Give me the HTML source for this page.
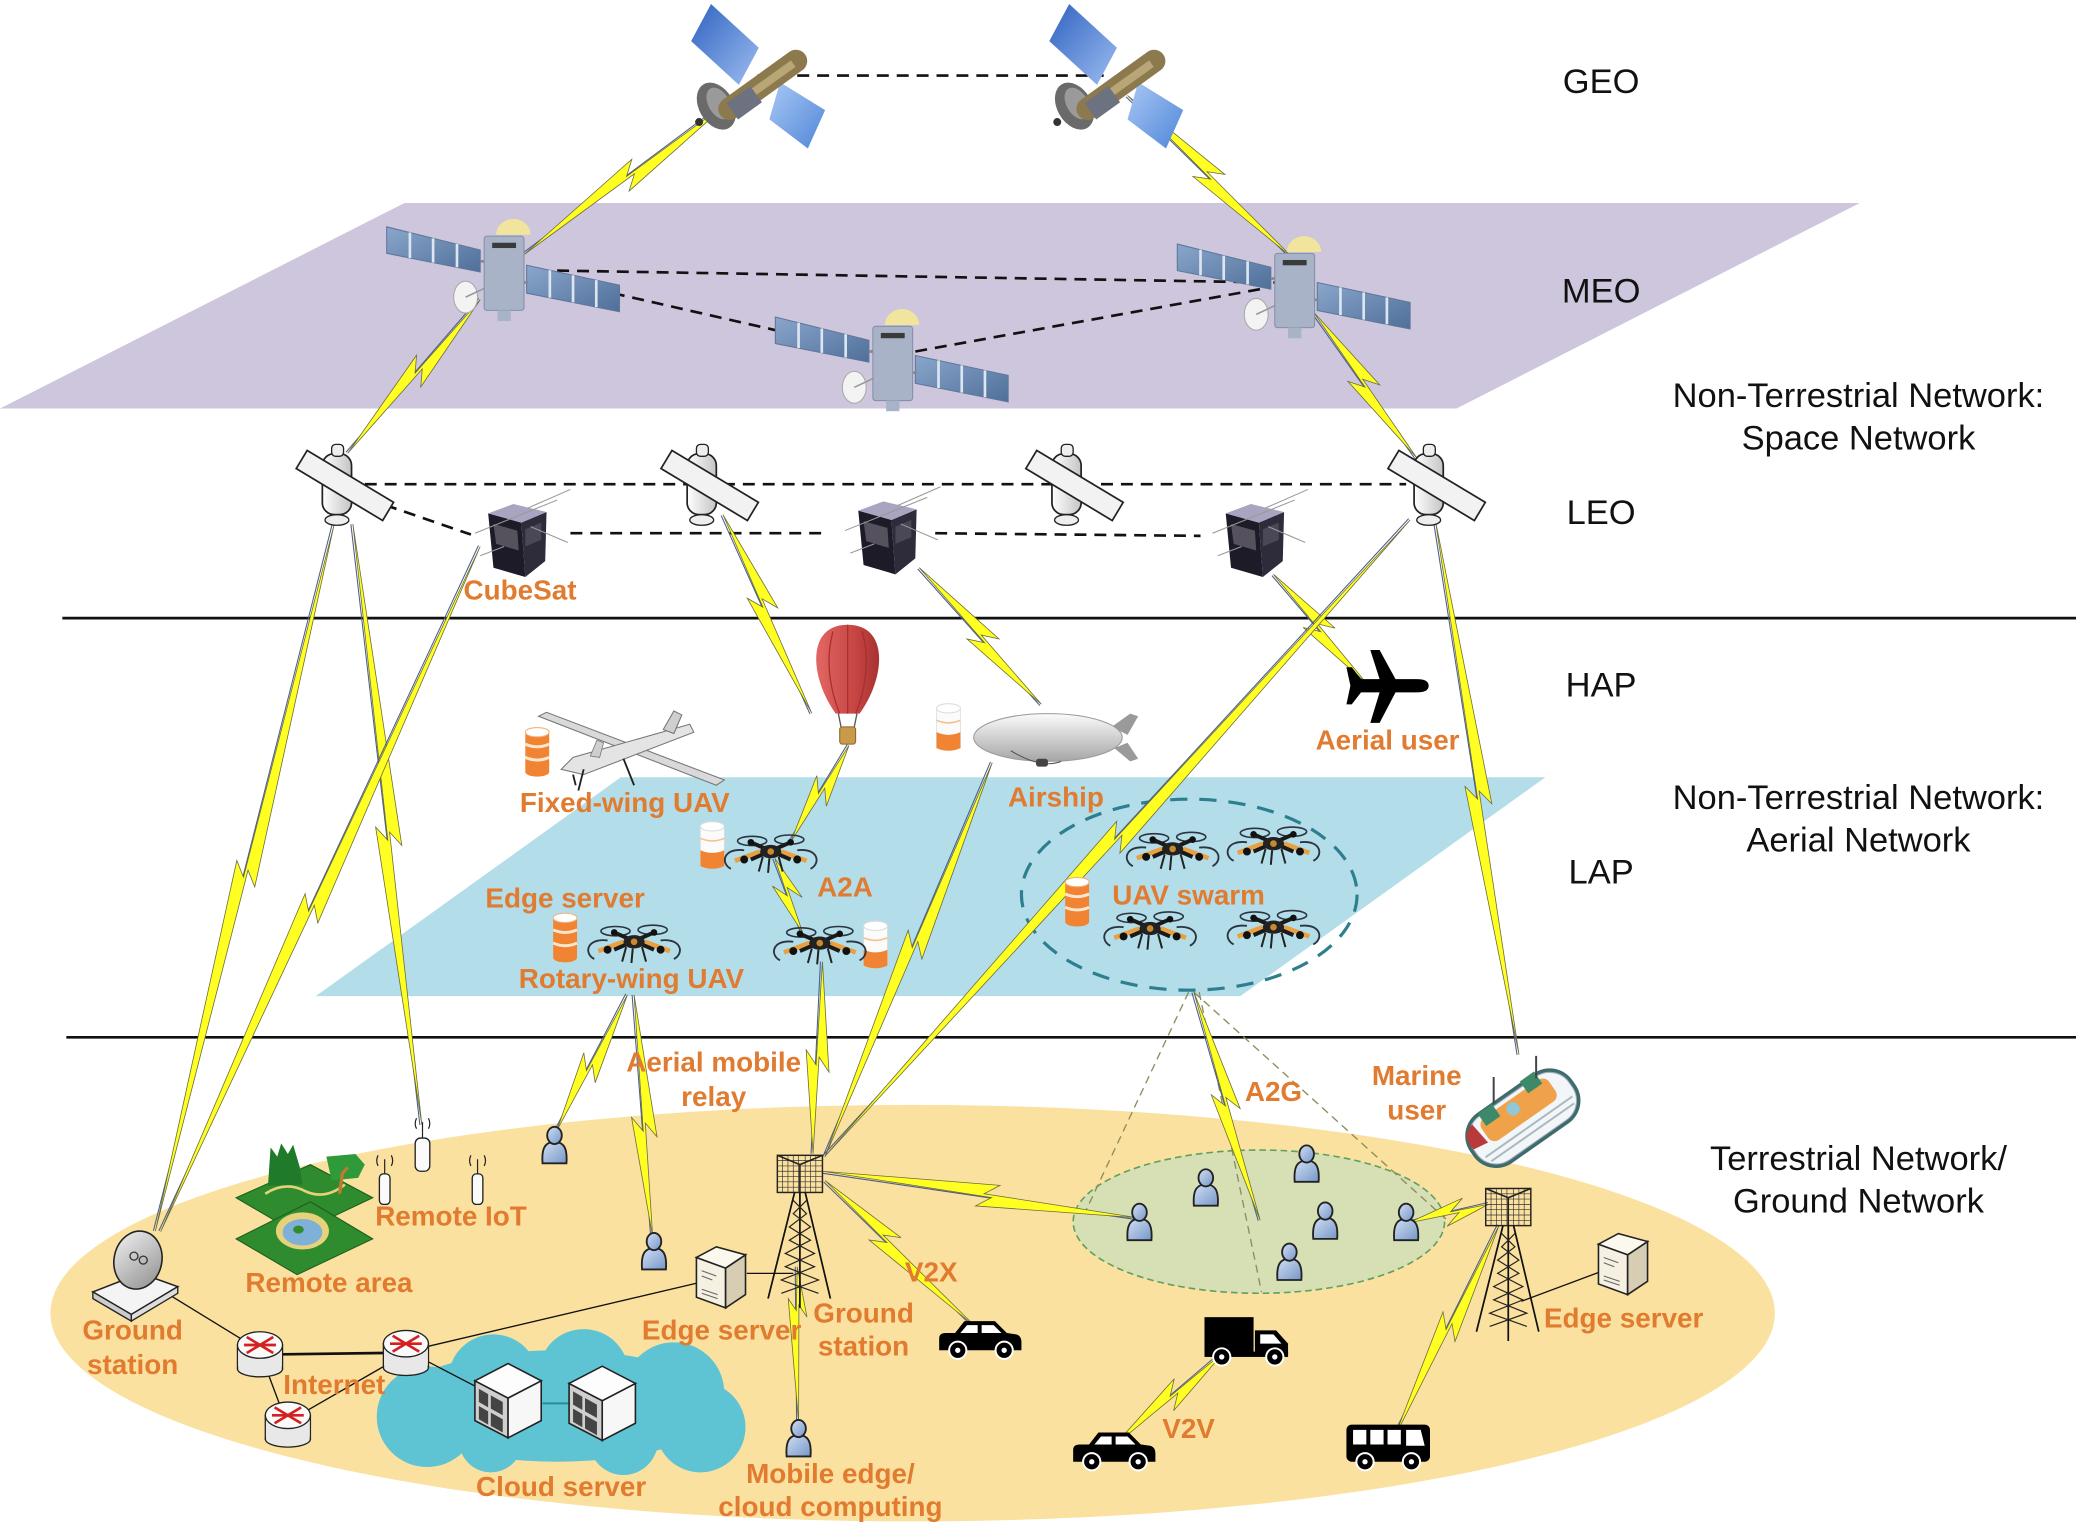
<!DOCTYPE html>
<html><head><meta charset="utf-8"><style>
html,body{margin:0;padding:0;background:#fff;}
svg{display:block;}
.b{fill:#ffff22;stroke:#6b6b40;stroke-width:0.6;}
.t{stroke:#4b5f86;stroke-width:0.8;fill:none;}
.bk{font-family:"Liberation Sans",Arial,sans-serif;font-size:26px;fill:#111;text-anchor:middle;}
.or{font-family:"Liberation Sans",Arial,sans-serif;font-size:21px;font-weight:bold;fill:#e07b30;text-anchor:middle;}
</style></head><body>
<svg xmlns="http://www.w3.org/2000/svg" xmlns:xlink="http://www.w3.org/1999/xlink" width="2080" height="1536" viewBox="0 0 1568 1158" preserveAspectRatio="none">
<defs>
<linearGradient id="gb" x1="0" y1="0" x2="1" y2="1"><stop offset="0" stop-color="#2f62c0"/><stop offset="1" stop-color="#9dbdf0"/></linearGradient>
<linearGradient id="gb2" x1="0" y1="0" x2="1" y2="1"><stop offset="0" stop-color="#a9c8f4"/><stop offset="1" stop-color="#4f86d8"/></linearGradient>
<linearGradient id="gw" x1="0" y1="0" x2="1" y2="0"><stop offset="0" stop-color="#ffffff"/><stop offset="1" stop-color="#c4c4c4"/></linearGradient>
<linearGradient id="gu" x1="0" y1="0" x2="1" y2="1"><stop offset="0" stop-color="#d2e0f3"/><stop offset="1" stop-color="#7696c8"/></linearGradient>
<linearGradient id="gr" x1="0" y1="0" x2="1" y2="0"><stop offset="0" stop-color="#e26763"/><stop offset="0.6" stop-color="#c74644"/><stop offset="1" stop-color="#a83232"/></linearGradient>
<linearGradient id="ga" x1="0" y1="0" x2="0" y2="1"><stop offset="0" stop-color="#fbfbfb"/><stop offset="1" stop-color="#a6a6a6"/></linearGradient>
<linearGradient id="gd" x1="0" y1="0" x2="1" y2="1"><stop offset="0" stop-color="#f2f2f2"/><stop offset="1" stop-color="#8e8e8e"/></linearGradient>
<linearGradient id="gm" x1="0" y1="0" x2="1" y2="1"><stop offset="0" stop-color="#8aa6cc"/><stop offset="1" stop-color="#4f6f99"/></linearGradient>

<g id="drone">
 <ellipse cx="-14" cy="-9" rx="11" ry="3.5" fill="none" stroke="#2b3440" stroke-width="1.2"/>
 <ellipse cx="14" cy="-10" rx="11" ry="3.5" fill="none" stroke="#2b3440" stroke-width="1.2"/>
 <path d="M-20,-2 C-36,-4 -38,8 -30,12 M20,-2 C36,-4 38,8 30,12" fill="none" stroke="#2b3440" stroke-width="1.4"/>
 <path d="M-27,6 L-8,-1 M8,-1 L27,6" stroke="#e9a040" stroke-width="3.5"/>
 <path d="M-15,-8 L15,5 M15,-8 L-15,5" stroke="#1a1a1a" stroke-width="3"/>
 <circle cx="-15" cy="-8" r="2.5" fill="#111"/><circle cx="15" cy="-8" r="2.5" fill="#111"/>
 <circle cx="-20" cy="5" r="3" fill="#111"/><circle cx="20" cy="5" r="3" fill="#111"/>
 <ellipse cx="0" cy="-1" rx="8" ry="5" fill="#222"/><circle cx="0" cy="-1" r="2.5" fill="#c88a30"/>
 <path d="M-6,3 L-9,14 M6,3 L9,14 M-1,4 L-2,15" stroke="#222" stroke-width="1.5"/>
</g>
<g id="db">
 <rect x="-9" y="-14" width="18" height="30" fill="#f08432"/>
 <ellipse cx="0" cy="16" rx="9" ry="3.5" fill="#f08432"/>
 <path d="M-9,-5 Q0,-1 9,-5 M-9,5 Q0,9 9,5" stroke="#fde6d0" stroke-width="2.2" fill="none"/>
 <ellipse cx="0" cy="-14" rx="9" ry="3.5" fill="#fff" stroke="#f3b27a" stroke-width="0.8"/>
</g>
<g id="dbw">
 <rect x="-9" y="-14" width="18" height="30" fill="#fbfbfb" stroke="#ddd" stroke-width="0.6"/>
 <path d="M-9,4 Q0,8 9,4 L9,16 Q0,20 -9,16 Z" fill="#f08432"/>
 <path d="M-9,-5 Q0,-1 9,-5" stroke="#f5c090" stroke-width="1.2" fill="none"/>
 <ellipse cx="0" cy="-14" rx="9" ry="3.5" fill="#fff" stroke="#ddd" stroke-width="0.8"/>
</g>
<g id="usr">
 <path d="M-9,13 C-10,0 -6,-3 0,-3 C6,-3 10,0 9,13 Z" fill="url(#gu)" stroke="#222" stroke-width="1.4"/>
 <ellipse cx="0" cy="-8" rx="5.5" ry="6.5" fill="url(#gu)" stroke="#222" stroke-width="1.4"/>
</g>
<g id="car">
 <path d="M1,24 L1,15 Q1,11 6,11 L13,11 L20,2 L43,2 L52,11 L59,12 Q63,13 63,18 L63,24 Z" fill="#000"/>
 <path d="M22,5 L30,5 L30,11 L17,11 Z M33,5 L42,5 L48,11 L33,11 Z" fill="#fff"/>
 <circle cx="15" cy="24" r="6.5" fill="#000" stroke="#fff" stroke-width="1.5"/><circle cx="15" cy="24" r="2" fill="#fff"/>
 <circle cx="50" cy="24" r="6.5" fill="#000" stroke="#fff" stroke-width="1.5"/><circle cx="50" cy="24" r="2" fill="#fff"/>
</g>
<g id="tw">
 <rect x="0" y="0" width="34" height="28" fill="none" stroke="#222" stroke-width="1.1"/>
 <path d="M4,0V28M8,0V28M12,0V28M16,0V28M21,0V28M25,0V28M29,0V28M0,4H34M0,8H34M0,12H34M0,16H34M0,20H34M0,24H34" stroke="#333" stroke-width="0.5"/>
 <path d="M0,0 L17,7 L34,0 M17,7 L17,28" stroke="#222" stroke-width="1.2" fill="none"/>
 <path d="M13,28 L-7,108 M21,28 L40,108 M17,28 L17,115" stroke="#111" stroke-width="1.3" fill="none"/>
 <path d="M12,34 L22,44 L9,54 L25,64 L6,74 L28,84 L3,94 L31,104 M22,34 L12,44 L25,54 L9,64 L28,74 L6,84 L31,94 L3,104" stroke="#222" stroke-width="0.9" fill="none"/>
</g>
<g id="srv">
 <path d="M0,8 L22,16 L22,46 L0,38 Z" fill="#f5f0e2" stroke="#222" stroke-width="1.2"/>
 <path d="M22,16 L37,6 L37,36 L22,46 Z" fill="#d6cdb2" stroke="#222" stroke-width="1.2"/>
 <path d="M0,8 L15,0 L37,6 L22,16 Z" fill="#fbf8ee" stroke="#222" stroke-width="1.2"/>
 <path d="M4,18 L15,22 M4,22 L12,25 M4,32 L16,36 M4,35 L16,39" stroke="#666" stroke-width="0.8"/>
</g>
<g id="csrv">
 <path d="M0,13 L25,26 L25,56 L0,43 Z" fill="#cfcfcf" stroke="#222" stroke-width="1.2"/>
 <path d="M25,26 L50,13 L50,43 L25,56 Z" fill="#f7f7f7" stroke="#222" stroke-width="1.2"/>
 <path d="M0,13 L25,0 L50,13 L25,26 Z" fill="#fdfdfd" stroke="#222" stroke-width="1.2"/>
 <path d="M3,19 L10,23 L10,33 L3,29 Z M12,24 L21,29 L21,39 L12,34 Z M3,32 L10,36 L10,46 L3,42 Z M12,37 L21,42 L21,52 L12,47 Z" fill="#444"/>
</g>
<g id="rt">
 <rect x="-17" y="-6" width="34" height="18" fill="#e8e8e8" stroke="#222" stroke-width="1"/>
 <ellipse cx="0" cy="12" rx="17" ry="6" fill="#e8e8e8" stroke="#222" stroke-width="1"/>
 <rect x="-16.5" y="-6" width="33" height="17" fill="#e8e8e8"/>
 <ellipse cx="0" cy="-6" rx="17" ry="10" fill="#fafafa" stroke="#222" stroke-width="1"/>
 <path d="M-10,-12 L10,0 M10,-12 L-10,0 M-12,-6 H12" stroke="#d42020" stroke-width="2"/>
</g>
<g id="leo">
 <rect x="-11" y="-24" width="22" height="46" rx="9" fill="url(#gw)" stroke="#222" stroke-width="1.3"/>
 <g transform="translate(6,0) rotate(31)"><rect x="-38" y="-8" width="76" height="16" fill="#f2f2f2" stroke="#222" stroke-width="1.3"/></g>
 <rect x="-4" y="-31" width="9" height="9" rx="3" fill="#eee" stroke="#222" stroke-width="1"/>
 <ellipse cx="0" cy="26" rx="9" ry="4" fill="#eee" stroke="#222" stroke-width="1"/>
</g>
<g id="cube">
 <path d="M-22,-20 L3,-13 L6,28 L-18,21 Z" fill="#1d1b28"/>
 <path d="M3,-13 L22,-21 L21,16 L6,28 Z" fill="#2e2b3a"/>
 <path d="M-22,-20 L-3,-27 L22,-21 L3,-13 Z" fill="#a9a4c0"/>
 <path d="M-18,-12 L0,-7 L1,8 L-16,3 Z" fill="#55525e"/>
 <path d="M6,-8 L18,-13 L18,0 L6,5 Z" fill="#4a4756"/>
 <path d="M-32,-5 L30,-30 M-28,12 L-10,5 M8,-24 L40,-38 M10,-10 L38,2" stroke="#999" stroke-width="0.8"/>
</g>
<g id="meo">
 <path d="M-88.5,-34 L-18,-16.5 L-18,0 L-88.5,-14 Z" fill="url(#gm)" stroke="#5f7799" stroke-width="0.8"/>
 <path d="M-71,-29.7 L-71,-10.5 M-53.5,-25.3 L-53.5,-7 M-35.5,-21 L-35.5,-3.5" stroke="#dde5f0" stroke-width="2"/>
 <path d="M17,-5 L87,10 L87,30 L17,16 Z" fill="url(#gm)" stroke="#5f7799" stroke-width="0.8"/>
 <path d="M34.5,-1.3 L34.5,19.5 M52,2.5 L52,23 M69.5,6.2 L69.5,26.5" stroke="#dde5f0" stroke-width="2"/>
 <path d="M-18,-8 L-14,-8 M15,8 L18,8" stroke="#888" stroke-width="2"/>
 <ellipse cx="-29" cy="19" rx="9" ry="12" fill="#f3f3f3" stroke="#aaa" stroke-width="0.8"/>
 <path d="M-29,19 L-14,12" stroke="#999" stroke-width="1.2"/>
 <rect x="-15" y="-27" width="30" height="56" rx="2" fill="#a8b3c8" stroke="#8390a8" stroke-width="0.8"/>
 <rect x="-9" y="-22" width="18" height="4" fill="#3a3a3a"/>
 <path d="M-6,-28 A13,12 0 0 1 20,-28 Z" fill="#f1e49c"/>
 <rect x="-5" y="29" width="10" height="8" fill="#a8b3c8"/>
</g>
<g id="geo">
 <path d="M536,3 L572,36 L557,64 L521,31 Z" fill="url(#gb)"/>
 <path d="M588,62 L622,83 L609,112 L580,90 Z" fill="url(#gb2)"/>
 <ellipse cx="540" cy="80" rx="13" ry="19" transform="rotate(-30 540 80)" fill="#6a6a6a"/>
 <ellipse cx="542" cy="78" rx="8" ry="13" transform="rotate(-30 542 78)" fill="#9a9a9a"/>
 <path d="M550,82 L600,46" stroke="#8c7a4e" stroke-width="17" stroke-linecap="round"/>
 <path d="M556,78 L598,48" stroke="#b9a676" stroke-width="6"/>
 <path d="M552,84 L570,71" stroke="#6d7280" stroke-width="15"/>
 <circle cx="527" cy="92" r="3" fill="#333"/>
</g>
</defs>

<!-- planes -->
<polygon points="305,153 1402,153 1098,308 0,308" fill="#cdc6dc"/>
<polygon points="468,586 1165,586 935,751 238,751" fill="#b3dde9"/>
<line x1="47" y1="466" x2="1565" y2="466" stroke="#111" stroke-width="2"/>
<line x1="50" y1="782" x2="1565" y2="782" stroke="#111" stroke-width="2"/>
<ellipse cx="688" cy="990" rx="650" ry="157" fill="#fbe19f"/>
<ellipse cx="949" cy="921" rx="140" ry="54" fill="#d6e0b4" stroke="#5f9f5f" stroke-width="1.2" stroke-dasharray="5 3"/>
<ellipse cx="896.5" cy="674.5" rx="126.5" ry="72" fill="none" stroke="#2d7f8f" stroke-width="2.4" stroke-dasharray="13 9"/>
<!-- cloud -->
<g fill="#5ec3d3">
<ellipse cx="420" cy="1060" rx="125" ry="42"/>
<circle cx="322" cy="1068" r="38"/><circle cx="372" cy="1040" r="34"/><circle cx="440" cy="1036" r="34"/>
<circle cx="508" cy="1050" r="38"/><circle cx="528" cy="1076" r="34"/><circle cx="470" cy="1086" r="26"/><circle cx="370" cy="1086" r="24"/>
</g>

<!-- dashed links -->
<g stroke="#111" stroke-width="2" stroke-dasharray="9 6" fill="none">
<line x1="571" y1="57" x2="832" y2="57"/>
<line x1="420" y1="204" x2="962" y2="213"/>
<line x1="462" y1="221" x2="585" y2="249"/>
<line x1="690" y1="265" x2="950" y2="218"/>
<line x1="275" y1="365" x2="1060" y2="365"/>
<line x1="430" y1="402" x2="622" y2="402"/>
<line x1="705" y1="402" x2="905" y2="404"/>
<line x1="262" y1="371" x2="355" y2="403"/>
</g>
<g stroke="#8c8c5a" stroke-width="1" stroke-dasharray="6 4" fill="none">
<line x1="896" y1="748" x2="818" y2="914"/>
<line x1="904" y1="748" x2="951" y2="974"/>
<line x1="900" y1="748" x2="1090" y2="919"/>
</g>

<!-- black ground links -->
<g stroke="#111" fill="none">
<line x1="129" y1="977" x2="186" y2="1012" stroke-width="1"/>
<line x1="213" y1="1021" x2="290" y2="1020" stroke-width="2"/>
<line x1="197" y1="1022" x2="215" y2="1070" stroke-width="1"/>
<line x1="220" y1="1070" x2="300" y2="1024" stroke-width="1"/>
<line x1="310" y1="1018" x2="527" y2="967" stroke-width="1"/>
<line x1="310" y1="1020" x2="360" y2="1046" stroke-width="1"/>
<line x1="563" y1="960" x2="598" y2="960" stroke-width="1"/>
<line x1="1206" y1="959" x2="1147" y2="981" stroke-width="1"/>
</g>
<line x1="409" y1="1058" x2="429" y2="1058" stroke="#2a8a9a" stroke-width="1.5"/>

<!-- lightning links -->
<g>
<g transform="translate(553,74) rotate(143.25)"><line class="t" x1="0" y1="1.5" x2="197" y2="1.5"/><polygon class="b" points="0,0 105,-9 94,-1 197,0 89,9 100,1"/></g>
<g transform="translate(850,72) rotate(44.5)"><line class="t" x1="0" y1="1.5" x2="175" y2="1.5"/><polygon class="b" points="0,0 94,-9 83,-1 175,0 78,9 89,1"/></g>
<g transform="translate(362,226) rotate(130.8)"><line class="t" x1="0" y1="1.5" x2="153" y2="1.5"/><polygon class="b" points="0,0 79,-9 68,-1 153,0 63,9 74,1"/></g>
<g transform="translate(990,235) rotate(54.7)"><line class="t" x1="0" y1="1.5" x2="135" y2="1.5"/><polygon class="b" points="0,0 74,-9 63,-1 135,0 58,9 69,1"/></g>
<g transform="translate(545,388) rotate(65.9)"><line class="t" x1="0" y1="1.5" x2="164" y2="1.5"/><polygon class="b" points="0,0 81,-9 70,-1 164,0 65,9 76,1"/></g>
<g transform="translate(693,428) rotate(48.2)"><line class="t" x1="0" y1="1.5" x2="138" y2="1.5"/><polygon class="b" points="0,0 80,-9 69,-1 138,0 64,9 75,1"/></g>
<g transform="translate(960,433) rotate(49.5)"><line class="t" x1="0" y1="1.5" x2="108" y2="1.5"/><polygon class="b" points="0,0 61,-9 50,-1 108,0 45,9 56,1"/></g>
<g transform="translate(1082,392) rotate(81.1)"><line class="t" x1="0" y1="1.5" x2="408" y2="1.5"/><polygon class="b" points="0,0 218,-9 207,-1 408,0 202,9 213,1"/></g>
<g transform="translate(252,395) rotate(104.2)"><line class="t" x1="0" y1="1.5" x2="550" y2="1.5"/><polygon class="b" points="0,0 280,-9 269,-1 550,0 264,9 275,1"/></g>
<g transform="translate(266,395) rotate(83.45)"><line class="t" x1="0" y1="1.5" x2="456" y2="1.5"/><polygon class="b" points="0,0 245,-9 234,-1 456,0 229,9 240,1"/></g>
<g transform="translate(362,412) rotate(115)"><line class="t" x1="0" y1="1.5" x2="570" y2="1.5"/><polygon class="b" points="0,0 309,-9 298,-1 570,0 293,9 304,1"/></g>
<g transform="translate(640,562) rotate(121.1)"><line class="t" x1="0" y1="1.5" x2="85" y2="1.5"/><polygon class="b" points="0,0 48,-9 37,-1 85,0 32,9 43,1"/></g>
<g transform="translate(584,647) rotate(69.4)"><line class="t" x1="0" y1="1.5" x2="60" y2="1.5"/><polygon class="b" points="0,0 35,-9 24,-1 60,0 19,9 30,1"/></g>
<g transform="translate(620,725) rotate(92.8)"><line class="t" x1="0" y1="1.5" x2="145" y2="1.5"/><polygon class="b" points="0,0 83,-9 72,-1 145,0 67,9 78,1"/></g>
<g transform="translate(748,575) rotate(113)"><line class="t" x1="0" y1="1.5" x2="323" y2="1.5"/><polygon class="b" points="0,0 157,-9 146,-1 323,0 141,9 152,1"/></g>
<g transform="translate(1063,392) rotate(132.6)"><line class="t" x1="0" y1="1.5" x2="652" y2="1.5"/><polygon class="b" points="0,0 333,-9 322,-1 652,0 317,9 328,1"/></g>
<g transform="translate(473,750) rotate(117.5)"><line class="t" x1="0" y1="1.5" x2="115" y2="1.5"/><polygon class="b" points="0,0 70,-9 59,-1 115,0 54,9 65,1"/></g>
<g transform="translate(478,750) rotate(85.6)"><line class="t" x1="0" y1="1.5" x2="183" y2="1.5"/><polygon class="b" points="0,0 108,-9 97,-1 183,0 92,9 103,1"/></g>
<g transform="translate(620,883) rotate(8.4)"><line class="t" x1="0" y1="1.5" x2="240" y2="1.5"/><polygon class="b" points="0,0 134,-9 123,-1 240,0 118,9 129,1"/></g>
<g transform="translate(622,890) rotate(44.2)"><line class="t" x1="0" y1="1.5" x2="158" y2="1.5"/><polygon class="b" points="0,0 71,-9 60,-1 158,0 55,9 66,1"/></g>
<g transform="translate(900,748) rotate(73.8)"><line class="t" x1="0" y1="1.5" x2="179" y2="1.5"/><polygon class="b" points="0,0 94,-9 83,-1 179,0 78,9 89,1"/></g>
<g transform="translate(1122,908) rotate(166.9)"><line class="t" x1="0" y1="1.5" x2="62" y2="1.5"/><polygon class="b" points="0,0 34,-9 23,-1 62,0 18,9 29,1"/></g>
<g transform="translate(1130,924) rotate(116.3)"><line class="t" x1="0" y1="1.5" x2="178" y2="1.5"/><polygon class="b" points="0,0 93,-9 82,-1 178,0 77,9 88,1"/></g>
<g transform="translate(923,1019) rotate(139.5)"><line class="t" x1="0" y1="1.5" x2="109" y2="1.5"/><polygon class="b" points="0,0 58,-9 47,-1 109,0 42,9 53,1"/></g>
<g transform="translate(601,955) rotate(89.5)"><line class="t" x1="0" y1="1.5" x2="117" y2="1.5"/><polygon class="b" points="0,0 38,-7 29,-1 117,0 24,7 33,1"/></g>
</g>

<!-- GEO satellites -->
<use xlink:href="#geo"/>
<use xlink:href="#geo" transform="translate(270,0)"/>

<!-- MEO satellites -->
<use xlink:href="#meo" transform="translate(380,205)"/>
<use xlink:href="#meo" transform="translate(976,218)"/>
<use xlink:href="#meo" transform="translate(673,273)"/>

<!-- LEO satellites -->
<use xlink:href="#leo" transform="translate(254,366)"/>
<use xlink:href="#leo" transform="translate(529,366)"/>
<use xlink:href="#leo" transform="translate(804,366)"/>
<use xlink:href="#leo" transform="translate(1077,366)"/>
<use xlink:href="#cube" transform="translate(390,407)"/>
<use xlink:href="#cube" transform="translate(669,405)"/>
<use xlink:href="#cube" transform="translate(946,407)"/>

<!-- aerial user plane -->
<path d="M1077,517 Q1077,512 1068,512 L1052,512 L1040,490 L1033,490 L1040,512 L1026,512 L1019,503 L1015,503 L1018,517 L1015,531 L1019,531 L1026,522 L1040,522 L1033,545 L1040,545 L1052,522 L1068,522 Q1077,522 1077,517 Z" fill="#000"/>

<!-- balloon -->
<path d="M639,471 C670,471 668,510 648,538 L630,538 C610,510 608,471 639,471 Z" fill="url(#gr)"/>
<path d="M628,476 Q620,505 633,538 M639,471 L639,538 M650,476 Q658,505 645,538" stroke="#a83030" stroke-width="1" fill="none"/>
<path d="M632,538 L634,548 M646,538 L644,548" stroke="#555" stroke-width="1"/>
<rect x="633" y="548" width="12" height="13" rx="2" fill="#c99a4a" stroke="#8a6a2a" stroke-width="0.8"/>

<!-- airship -->
<path d="M838,548 L852,538 L858,540 L850,554 Z M840,564 L852,574 L858,572 L850,560 Z" fill="#9a9a9a"/>
<ellipse cx="790" cy="556" rx="56" ry="18" fill="url(#ga)" stroke="#9a9a9a" stroke-width="0.8"/>
<path d="M762,566 Q785,580 800,574" stroke="#555" stroke-width="0.8" fill="none"/>
<rect x="781" y="572" width="9" height="6" rx="2" fill="#444"/>

<!-- fixed wing UAV -->
<polygon points="406,540 412,537 546,588 540,592" fill="#d9d9d9" stroke="#777" stroke-width="0.8"/>
<polygon points="423,580 432,571 520,546 523,552 440,584" fill="#e4e4e4" stroke="#777" stroke-width="0.8"/>
<polygon points="500,550 508,536 514,539 508,553" fill="#cfcfcf" stroke="#777" stroke-width="0.8"/>
<polygon points="445,570 450,558 455,560 452,571" fill="#cfcfcf" stroke="#777" stroke-width="0.6"/>
<path d="M440,580 L436,596 M470,572 L478,592 M432,584 L434,592" stroke="#222" stroke-width="1.4"/>

<!-- storage cylinders -->
<use xlink:href="#db" transform="translate(405,566)"/>
<use xlink:href="#dbw" transform="translate(715,548)"/>
<use xlink:href="#dbw" transform="translate(537,637)"/>
<use xlink:href="#dbw" transform="translate(660,712)"/>
<use xlink:href="#db" transform="translate(426,706)"/>
<use xlink:href="#db" transform="translate(812,679)"/>

<!-- drones -->
<use xlink:href="#drone" transform="translate(581,643)"/>
<use xlink:href="#drone" transform="translate(618,712)"/>
<use xlink:href="#drone" transform="translate(478,711)"/>
<use xlink:href="#drone" transform="translate(884,641)"/>
<use xlink:href="#drone" transform="translate(960,637)"/>
<use xlink:href="#drone" transform="translate(867,701)"/>
<use xlink:href="#drone" transform="translate(960,700)"/>

<!-- ground: remote area -->
<polygon points="178,903 234,878 281,903 224,930" fill="#2e8b2e" stroke="#1e5e1e" stroke-width="0.8"/>
<polygon points="178,934 234,906 281,934 224,961" fill="#2e8b2e" stroke="#1e5e1e" stroke-width="0.8"/>
<ellipse cx="228" cy="928" rx="20" ry="14" fill="#e6d27a"/>
<ellipse cx="228" cy="929" rx="15" ry="10" fill="#7fb0d8"/>
<ellipse cx="225" cy="927" rx="4" ry="3" fill="#2e8b2e"/>
<path d="M200,900 Q215,890 230,898 Q245,905 260,893" stroke="#e6d27a" stroke-width="2" fill="none"/>
<path d="M202,894 L204,865 L209,872 L212,862 L217,870 L221,863 L226,880 L228,893 Z" fill="#1f7a2a"/>
<path d="M246,872 L268,870 L275,878 L270,888 L250,890 Z" fill="#2e9a3a"/>
<path d="M256,900 L258,885 L262,880" stroke="#c07a30" stroke-width="2.5" fill="none"/>

<!-- IoT antennas -->
<g stroke="#222" stroke-width="1" fill="#fafafa">
<rect x="313" y="858" width="11" height="25" rx="4"/>
<rect x="286" y="885" width="8" height="23" rx="3"/>
<rect x="356" y="885" width="8" height="23" rx="3"/>
</g>
<g stroke="#222" stroke-width="0.9" fill="none">
<path d="M318.5,858 V846 M290,885 V874 M360,885 V874"/>
<path d="M314,843 Q312,847 314,851 M323,843 Q325,847 323,851 M285,871 Q283,875 285,879 M295,871 Q297,875 295,879 M355,871 Q353,875 355,879 M365,871 Q367,875 365,879"/>
</g>

<!-- ground station dish -->
<polygon points="70,974 106,960 134,970 99,991" fill="#f4f4f4" stroke="#222" stroke-width="1.2"/>
<polygon points="70,974 99,991 99,996 70,979" fill="#ccc" stroke="#222" stroke-width="1"/>
<polygon points="99,991 134,970 134,975 99,996" fill="#ddd" stroke="#222" stroke-width="1"/>
<ellipse cx="104" cy="950" rx="18" ry="22" transform="rotate(12 104 950)" fill="url(#gd)" stroke="#222" stroke-width="1.2"/>
<circle cx="101" cy="947" r="3" fill="none" stroke="#333"/><circle cx="108" cy="950" r="3" fill="none" stroke="#333"/>

<!-- routers -->
<use xlink:href="#rt" transform="translate(196,1020)"/>
<use xlink:href="#rt" transform="translate(306,1019)"/>
<use xlink:href="#rt" transform="translate(217,1073)"/>

<!-- cloud servers -->
<use xlink:href="#csrv" transform="translate(358,1028)"/>
<use xlink:href="#csrv" transform="translate(429,1030)"/>

<!-- edge servers -->
<use xlink:href="#srv" transform="translate(525,940)"/>
<use xlink:href="#srv" transform="translate(1205,930)"/>

<!-- towers -->
<use xlink:href="#tw" transform="translate(586,871)"/>
<use xlink:href="#tw" transform="translate(1120,896)"/>

<!-- users -->
<use xlink:href="#usr" transform="translate(418,864)"/>
<use xlink:href="#usr" transform="translate(493,944)"/>
<use xlink:href="#usr" transform="translate(602,1085)"/>
<use xlink:href="#usr" transform="translate(859,922)"/>
<use xlink:href="#usr" transform="translate(909,896)"/>
<use xlink:href="#usr" transform="translate(985,878)"/>
<use xlink:href="#usr" transform="translate(999,921)"/>
<use xlink:href="#usr" transform="translate(1060,922)"/>
<use xlink:href="#usr" transform="translate(972,952)"/>

<!-- vehicles -->
<use xlink:href="#car" transform="translate(707,994)"/>
<use xlink:href="#car" transform="translate(808,1078)"/>
<g>
<rect x="908" y="993" width="37" height="27" fill="#000"/>
<path d="M946,1003 L962,1003 L971,1013 L971,1022 L946,1022 Z" fill="#000"/>
<path d="M950,1006 L960,1006 L966,1013 L950,1013 Z" fill="#fff"/>
<rect x="908" y="1019" width="63" height="4" fill="#000"/>
<circle cx="921" cy="1023" r="6.5" fill="#000" stroke="#fff" stroke-width="1.5"/><circle cx="921" cy="1023" r="2" fill="#fff"/>
<circle cx="961" cy="1023" r="6.5" fill="#000" stroke="#fff" stroke-width="1.5"/><circle cx="961" cy="1023" r="2" fill="#fff"/>
</g>
<g>
<rect x="1015" y="1074" width="63" height="28" rx="4" fill="#000"/>
<rect x="1020" y="1078" width="10" height="11" fill="#fff"/>
<rect x="1033" y="1078" width="10" height="11" fill="#fff"/>
<rect x="1046" y="1078" width="10" height="11" fill="#fff"/>
<path d="M1060,1078 L1071,1078 L1074,1090 L1060,1090 Z" fill="#fff"/>
<circle cx="1029" cy="1102" r="6.5" fill="#000" stroke="#fff" stroke-width="1.5"/><circle cx="1029" cy="1102" r="2" fill="#fff"/>
<circle cx="1064" cy="1102" r="6.5" fill="#000" stroke="#fff" stroke-width="1.5"/><circle cx="1064" cy="1102" r="2" fill="#fff"/>
</g>

<!-- ship -->
<g transform="translate(1148,843) rotate(-35)">
<rect x="-47" y="-23" width="94" height="46" rx="21" fill="#3f6b6b"/>
<rect x="-44" y="-20" width="88" height="40" rx="18" fill="#f2f6f8" stroke="#9ab" stroke-width="0.8"/>
<path d="M-40,8 H40 M-38,13 H38" stroke="#aab8c0" stroke-width="1.5"/>
<rect x="-30" y="-17" width="62" height="20" rx="6" fill="#f0a24a"/>
<path d="M-44,-2 Q-46,-16 -34,-18 L-32,0 Z" fill="#b83a3a"/>
<rect x="-26" y="-22" width="13" height="11" fill="#3c8a6a"/>
<rect x="14" y="-24" width="13" height="11" fill="#3c8a6a"/>
<circle cx="-2" cy="-10" r="5" fill="#8fc8d8"/>
</g>
<path d="M1126,832 V812 M1158,813 V796" stroke="#444" stroke-width="1.5"/>

<!-- black labels -->
<text class="bk" x="1207" y="70">GEO</text>
<text class="bk" x="1207" y="228">MEO</text>
<text class="bk" x="1207" y="395">LEO</text>
<text class="bk" x="1207" y="525">HAP</text>
<text class="bk" x="1207" y="666">LAP</text>
<text class="bk" x="1401" y="307">Non-Terrestrial Network:</text>
<text class="bk" x="1401" y="339">Space Network</text>
<text class="bk" x="1401" y="610">Non-Terrestrial Network:</text>
<text class="bk" x="1401" y="642">Aerial Network</text>
<text class="bk" x="1401" y="882">Terrestrial Network/</text>
<text class="bk" x="1401" y="914">Ground Network</text>

<!-- orange labels -->
<text class="or" x="392" y="452">CubeSat</text>
<text class="or" x="471" y="612">Fixed-wing UAV</text>
<text class="or" x="796" y="608">Airship</text>
<text class="or" x="1046" y="565">Aerial user</text>
<text class="or" x="637" y="676">A2A</text>
<text class="or" x="426" y="684">Edge server</text>
<text class="or" x="896" y="682">UAV swarm</text>
<text class="or" x="476" y="745">Rotary-wing UAV</text>
<text class="or" x="538" y="808">Aerial mobile</text>
<text class="or" x="538" y="834">relay</text>
<text class="or" x="960" y="830">A2G</text>
<text class="or" x="1068" y="818">Marine</text>
<text class="or" x="1068" y="844">user</text>
<text class="or" x="340" y="924">Remote IoT</text>
<text class="or" x="248" y="974">Remote area</text>
<text class="or" x="702" y="966">V2X</text>
<text class="or" x="100" y="1010">Ground</text>
<text class="or" x="100" y="1036">station</text>
<text class="or" x="544" y="1010">Edge server</text>
<text class="or" x="651" y="997">Ground</text>
<text class="or" x="651" y="1022">station</text>
<text class="or" x="252" y="1051">Internet</text>
<text class="or" x="1224" y="1001">Edge server</text>
<text class="or" x="896" y="1084">V2V</text>
<text class="or" x="423" y="1128">Cloud server</text>
<text class="or" x="626" y="1118">Mobile edge/</text>
<text class="or" x="626" y="1143">cloud computing</text>
</svg>
</body></html>
